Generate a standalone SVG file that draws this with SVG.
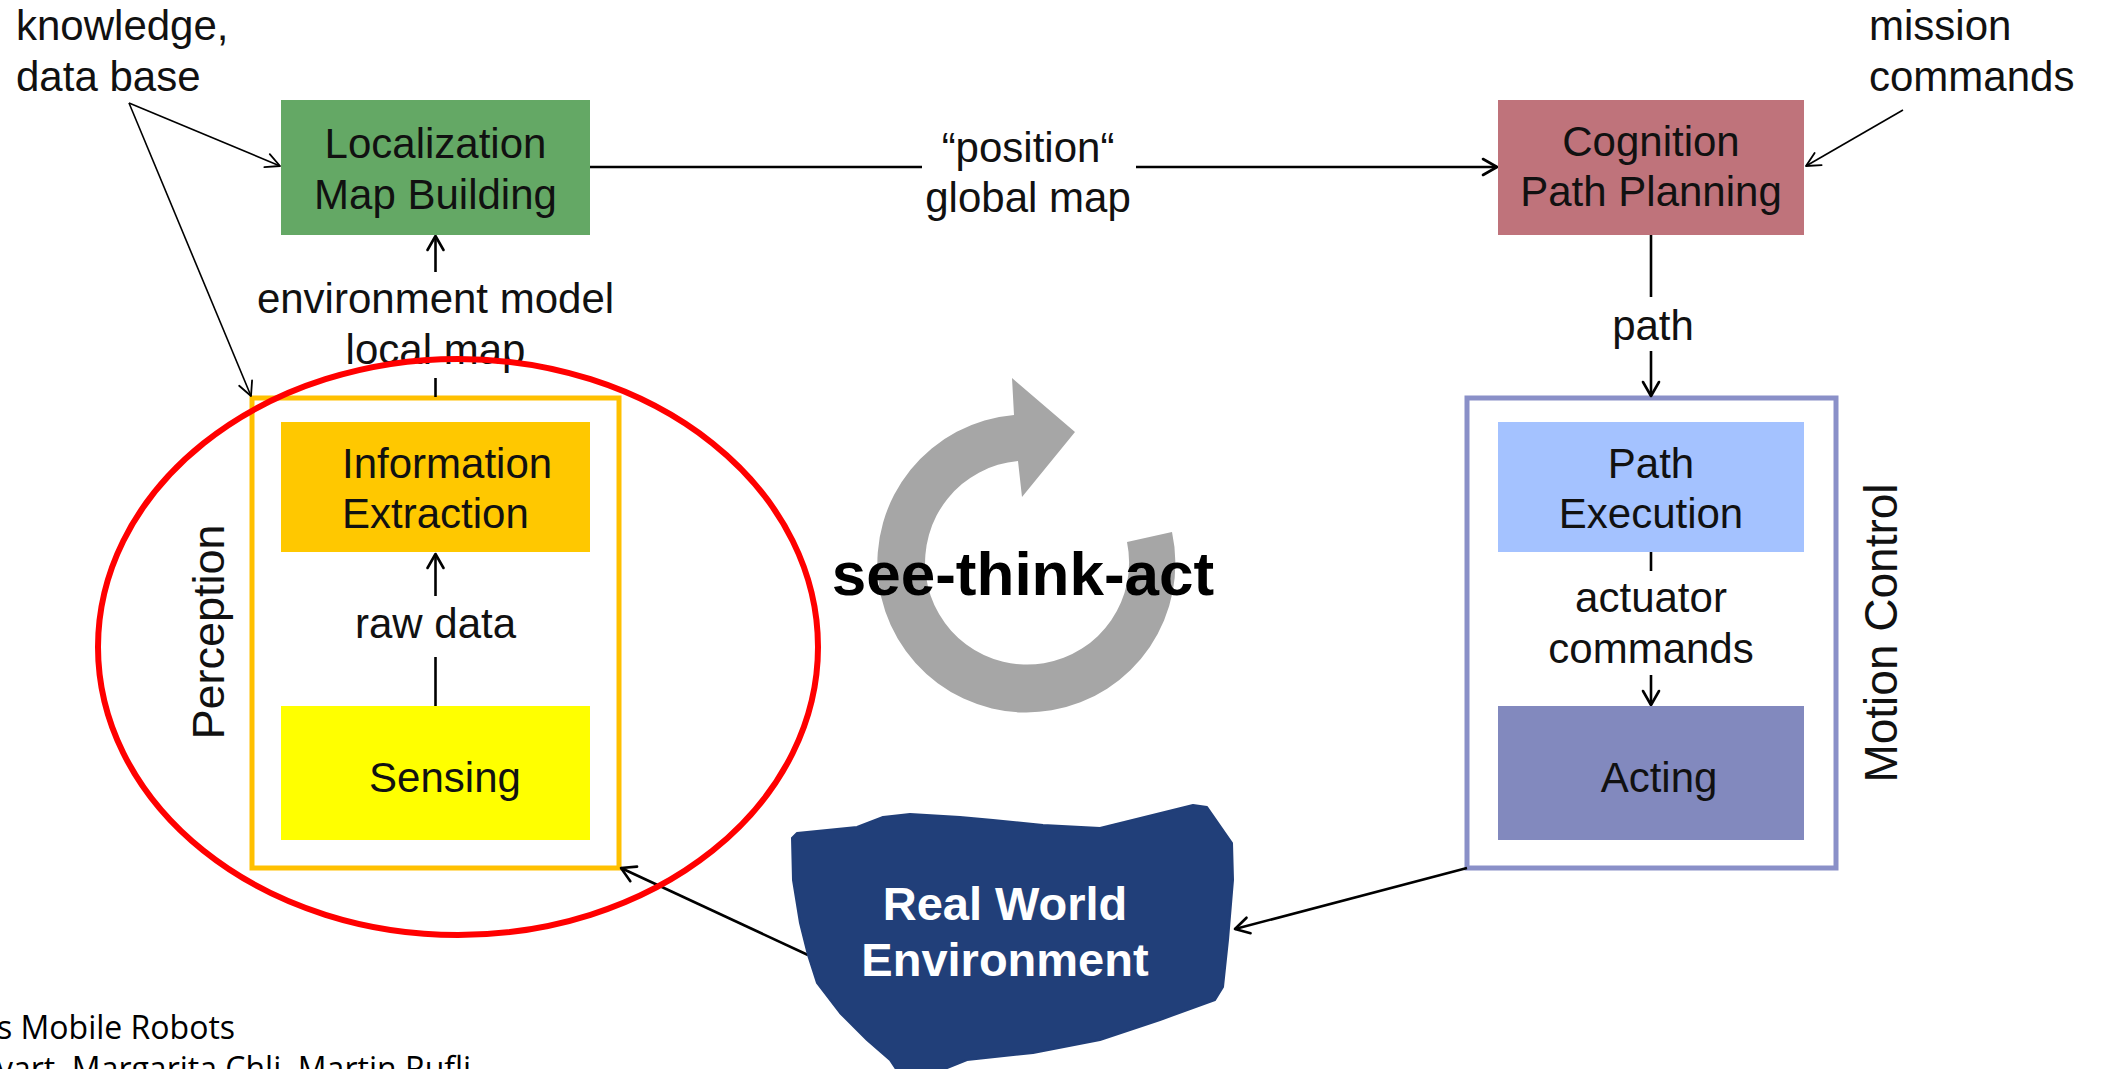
<svg xmlns="http://www.w3.org/2000/svg" width="2101" height="1069" viewBox="0 0 2101 1069">
<defs>
<marker id="ah" markerUnits="userSpaceOnUse" viewBox="0 0 20 20" markerWidth="20" markerHeight="20" refX="17" refY="10" orient="auto">
<path d="M3,2 L17,10 L3,18" fill="none" stroke="#000" stroke-width="2.6" stroke-linecap="round" stroke-linejoin="round"/>
</marker>
<marker id="ahs" markerUnits="userSpaceOnUse" viewBox="0 0 20 20" markerWidth="20" markerHeight="20" refX="17" refY="10" orient="auto">
<path d="M3,3 L17,10 L3,17" fill="none" stroke="#000" stroke-width="1.8" stroke-linecap="round" stroke-linejoin="round"/>
</marker>
</defs>
<style>
.t{font-family:"Liberation Sans",Arial,sans-serif;font-size:42px;fill:#111;text-anchor:middle}
.l{text-anchor:start}
.c{stroke:#000;stroke-width:2.6;fill:none}
.cs{stroke:#000;stroke-width:1.6;fill:none}
.w{font-family:"Liberation Sans",Arial,sans-serif;font-size:47px;font-weight:bold;fill:#fff;text-anchor:middle}
.foot{font-family:"Open Sans","Noto Sans",sans-serif;font-size:32px;fill:#000}
</style>
<rect width="2101" height="1069" fill="#fff"/>

<g id="perception-container">
<rect x="252" y="398" width="367" height="470" fill="#fff" stroke="#FFC000" stroke-width="5"/>
<text class="t" transform="translate(224,632) rotate(-90)" style="font-size:45px">Perception</text>
</g>
<g id="motion-container">
<rect x="1467" y="398" width="369" height="470" fill="#fff" stroke="#8A90C8" stroke-width="5"/>
<text class="t" transform="translate(1897,633) rotate(-90)" style="font-size:46px">Motion Control</text>
</g>

<g id="connectors">
<line class="c" x1="590" y1="167" x2="922" y2="167"/>
<line class="c" x1="1136" y1="167" x2="1497" y2="167" marker-end="url(#ah)"/>
<line class="cs" x1="129" y1="103" x2="280" y2="166" marker-end="url(#ahs)"/>
<line class="cs" x1="129" y1="103" x2="251" y2="396" marker-end="url(#ahs)"/>
<line class="cs" x1="1903" y1="110" x2="1806" y2="166" marker-end="url(#ahs)"/>
<line class="c" x1="435.5" y1="272" x2="435.5" y2="236" marker-end="url(#ah)"/>
<line class="c" x1="435.5" y1="378" x2="435.5" y2="397"/>
<line class="c" x1="435.5" y1="706" x2="435.5" y2="657"/>
<line class="c" x1="435.5" y1="596" x2="435.5" y2="554" marker-end="url(#ah)"/>
<line class="c" x1="1651" y1="235" x2="1651" y2="297"/>
<line class="c" x1="1651" y1="351" x2="1651" y2="396" marker-end="url(#ah)"/>
<line class="c" x1="1651" y1="552" x2="1651" y2="571"/>
<line class="c" x1="1651" y1="675" x2="1651" y2="705" marker-end="url(#ah)"/>
<line class="c" x1="1467" y1="868" x2="1235" y2="929" marker-end="url(#ah)"/>
<line class="c" x1="808" y1="955" x2="621" y2="868" marker-end="url(#ah)"/>
</g>

<g id="labels">
<text class="t l" x="16" y="40">knowledge,</text>
<text class="t l" x="16" y="91">data base</text>
<text class="t l" x="1869" y="40">mission</text>
<text class="t l" x="1869" y="91">commands</text>
<text class="t" x="1028" y="162">“position“</text>
<text class="t" x="1028" y="212">global map</text>
<text class="t" x="435.5" y="313">environment model</text>
<text class="t" x="435.5" y="364">local map</text>
<text class="t" x="435.5" y="638">raw data</text>
<text class="t" x="1653" y="340">path</text>
<text class="t" x="1651" y="612">actuator</text>
<text class="t" x="1651" y="663">commands</text>
</g>

<g id="localization">
<rect x="281" y="100" width="309" height="135" fill="#64A865"/>
<text class="t" x="435.5" y="158">Localization</text>
<text class="t" x="435.5" y="209">Map Building</text>
</g>
<g id="cognition">
<rect x="1498" y="100" width="306" height="135" fill="#BF737B"/>
<text class="t" x="1651" y="156">Cognition</text>
<text class="t" x="1651" y="206">Path Planning</text>
</g>
<g id="information-extraction">
<rect x="281" y="422" width="309" height="130" fill="#FFC800"/>
<text class="t l" x="342" y="478">Information</text>
<text class="t l" x="342" y="528">Extraction</text>
</g>
<g id="sensing">
<rect x="281" y="706" width="309" height="134" fill="#FFFF00"/>
<text class="t" x="445" y="792">Sensing</text>
</g>
<g id="path-execution">
<rect x="1498" y="422" width="306" height="130" fill="#A4C2FF"/>
<text class="t" x="1651" y="478">Path</text>
<text class="t" x="1651" y="528">Execution</text>
</g>
<g id="acting">
<rect x="1498" y="706" width="306" height="134" fill="#8289BE"/>
<text class="t" x="1659" y="792">Acting</text>
</g>

<g id="cycle">
<path d="M1172,532 A149,149 0 1 1 1014,415 L1012,378 L1075,432 L1022,497 L1018,461 A102,102 0 1 0 1127,542 Z" fill="#A6A6A6"/>
<text x="1023" y="595" style="font-family:'Liberation Sans',Arial,sans-serif;font-size:62px;font-weight:bold;fill:#000;text-anchor:middle">see-think-act</text>
</g>

<g id="real-world">
<path d="M792,838 L797,833 L857,827 L883,817 L910,814 L960,817 L993,820 L1043,825 L1100,828 L1193,805 L1207,807 L1232,843 L1233,880 L1228,940 L1223,987 L1215,1000 L1160,1020 L1100,1040 L1033,1053 L967,1060 L930,1075 L900,1075 L890,1060 L867,1040 L840,1013 L817,983 L808,955 L800,923 L793,880 Z" fill="#213F79" stroke="#213F79" stroke-width="2" stroke-linejoin="round"/>
<text class="w" x="1005" y="920">Real World</text>
<text class="w" x="1005" y="976">Environment</text>
</g>

<g id="highlight">
<ellipse cx="458" cy="647" rx="360" ry="288" fill="none" stroke="#FF0000" stroke-width="6"/>
</g>

<g id="footer">
<text class="foot" x="-3" y="1039">s Mobile Robots</text>
<text class="foot" x="-3" y="1080">vart, Margarita Chli, Martin Rufli</text>
</g>
</svg>
